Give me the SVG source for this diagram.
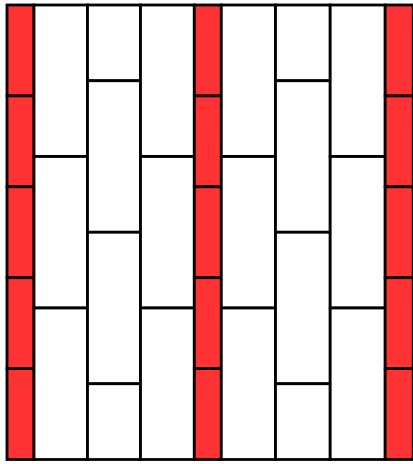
<svg xmlns="http://www.w3.org/2000/svg" width="413" height="464" viewBox="0 0 413 464">
<style>
.r,.w{stroke:#000;stroke-width:2.8}
.r{fill:#ff3333}
.w{fill:#fff}
</style>
<rect width="413" height="464" fill="#fff"/>
<g id="red1">
<rect class="r" x="7" y="5" width="27" height="90.9"/>
<rect class="r" x="7" y="95.9" width="27" height="90.9"/>
<rect class="r" x="7" y="186.8" width="27" height="90.9"/>
<rect class="r" x="7" y="277.7" width="27" height="90.9"/>
<rect class="r" x="7" y="368.6" width="27" height="90.9"/>
</g>
<g id="col1">
<rect class="w" x="34" y="5" width="53.5" height="151.5"/>
<rect class="w" x="34" y="156.5" width="53.5" height="151.5"/>
<rect class="w" x="34" y="308" width="53.5" height="151.5"/>
</g>
<g id="col2">
<rect class="w" x="87.5" y="5" width="53" height="75.75"/>
<rect class="w" x="87.5" y="80.75" width="53" height="151.5"/>
<rect class="w" x="87.5" y="232.25" width="53" height="151.5"/>
<rect class="w" x="87.5" y="383.75" width="53" height="75.75"/>
</g>
<g id="col3">
<rect class="w" x="140.5" y="5" width="53.8" height="151.5"/>
<rect class="w" x="140.5" y="156.5" width="53.8" height="151.5"/>
<rect class="w" x="140.5" y="308" width="53.8" height="151.5"/>
</g>
<g id="red2">
<rect class="r" x="194.3" y="5" width="27" height="90.9"/>
<rect class="r" x="194.3" y="95.9" width="27" height="90.9"/>
<rect class="r" x="194.3" y="186.8" width="27" height="90.9"/>
<rect class="r" x="194.3" y="277.7" width="27" height="90.9"/>
<rect class="r" x="194.3" y="368.6" width="27" height="90.9"/>
</g>
<g id="col4">
<rect class="w" x="221.3" y="5" width="54.2" height="151.5"/>
<rect class="w" x="221.3" y="156.5" width="54.2" height="151.5"/>
<rect class="w" x="221.3" y="308" width="54.2" height="151.5"/>
</g>
<g id="col5">
<rect class="w" x="275.5" y="5" width="54.7" height="75.75"/>
<rect class="w" x="275.5" y="80.75" width="54.7" height="151.5"/>
<rect class="w" x="275.5" y="232.25" width="54.7" height="151.5"/>
<rect class="w" x="275.5" y="383.75" width="54.7" height="75.75"/>
</g>
<g id="col6">
<rect class="w" x="330.2" y="5" width="55" height="151.5"/>
<rect class="w" x="330.2" y="156.5" width="55" height="151.5"/>
<rect class="w" x="330.2" y="308" width="55" height="151.5"/>
</g>
<g id="red3">
<rect class="r" x="385.2" y="5" width="28" height="90.9"/>
<rect class="r" x="385.2" y="95.9" width="28" height="90.9"/>
<rect class="r" x="385.2" y="186.8" width="28" height="90.9"/>
<rect class="r" x="385.2" y="277.7" width="28" height="90.9"/>
<rect class="r" x="385.2" y="368.6" width="28" height="90.9"/>
</g>
</svg>
